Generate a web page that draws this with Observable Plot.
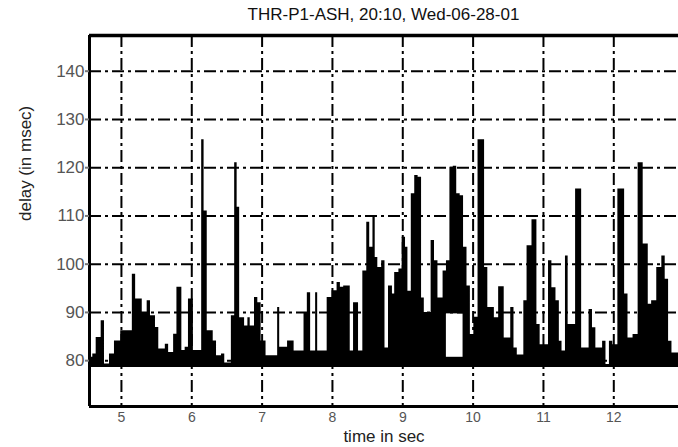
<!DOCTYPE html>
<html>
<head>
<meta charset="utf-8">
<script src="https://cdn.jsdelivr.net/npm/d3@7"></script>
<script src="https://cdn.jsdelivr.net/npm/@observablehq/plot@0.6"></script>
<style>
  html, body { margin: 0; padding: 0; background: #fff; }
  #chart { width: 678px; height: 447px; overflow: hidden; font-family: "Liberation Sans", Arial, sans-serif; }
  #title { height: 28px; margin-left: 89px; width: 589px; text-align: center;
           font-size: 17px; line-height: 30px; color: #111; white-space: nowrap; }
  #chart svg { display: block; }
</style>
</head>
<body>
<div id="chart">
  <div id="title">THR-P1-ASH, 20:10, Wed-06-28-01</div>
</div>
<script>
// Packet delay trace: sample times (s) and measured one-way delay (ms).
// Each delay holds until the next sample time.
const times = [
  4.546, 4.593, 4.641, 4.712, 4.759, 4.830, 4.901, 4.99, 5.155, 5.202,
  5.296, 5.366, 5.413, 5.484, 5.531, 5.624, 5.671, 5.742, 5.789, 5.859,
  5.906, 5.953, 6.023, 6.141, 6.175, 6.22, 6.305, 6.352, 6.423, 6.469,
  6.563, 6.610, 6.645, 6.681, 6.751, 6.798, 6.831, 6.892, 6.939, 6.986,
  7.056, 7.221, 7.25, 7.362, 7.455, 7.596, 7.643, 7.690, 7.761, 7.79,
  7.925, 7.995, 8.066, 8.113, 8.160, 8.253, 8.300, 8.371, 8.432, 8.488,
  8.53, 8.576, 8.608, 8.645, 8.700, 8.747, 8.797, 8.853, 8.885, 8.945,
  8.991, 9.039, 9.073, 9.121, 9.170, 9.218, 9.267, 9.306, 9.403, 9.451,
  9.5, 9.573, 9.621, 9.670, 9.718, 9.767, 9.816, 9.864, 9.913, 9.961,
  10.01, 10.07, 10.163, 10.209, 10.302, 10.363, 10.442, 10.535, 10.581, 10.628,
  10.721, 10.767, 10.837, 10.907, 10.953, 11.072, 11.120, 11.178, 11.226, 11.264,
  11.313, 11.351, 11.457, 11.543, 11.649, 11.697, 11.745, 11.841, 11.889, 11.938,
  11.986, 12.058, 12.154, 12.202, 12.274, 12.346, 12.418, 12.490, 12.538, 12.611,
  12.683, 12.731, 12.779, 12.827, 12.95
];
const delays = [
  80.7, 81.4, 84.8, 88.3, 79.3, 81.4, 84.1, 86.2, 97.9, 92.8,
  90, 92.4, 89.3, 86.9, 82.4, 83.4, 81.7, 85.5, 95.2, 82.1,
  82.8, 92.8, 82.1, 125.8, 111, 86.2, 84.1, 81, 81.4, 79.5,
  89.3, 121, 111.8, 88.9, 87.2, 88.9, 87.2, 93.1, 92, 84.1,
  81, 91, 82.8, 84.1, 82, 90, 94.1, 82, 94.1, 82,
  93.1, 94.5, 96.2, 95.2, 95.5, 82, 92, 82, 98.6, 108.7,
  103.5, 109.7, 101.4, 99.3, 100.7, 82.6, 95.5, 93.8, 98.3, 99,
  105.6, 103.5, 94.4, 114.6, 118.4, 118, 93, 90, 104.9, 100.7,
  93, 98.6, 100.7, 120.1, 120.3, 114.6, 114.2, 103.5, 95.5, 85.4,
  89, 125.8, 99.3, 91, 88.9, 95.3, 84.7, 91, 82.6, 81.2,
  92.4, 103.8, 109.2, 87.5, 83.3, 100.7, 95.1, 92.4, 84, 82,
  101.7, 87.5, 115.6, 82.6, 90.6, 86.8, 82.6, 84, 79.2, 84,
  83.3, 115.6, 93.8, 84.7, 85.4, 121, 104.2, 91.7, 92.4, 99.3,
  101.7, 96.9, 84, 81.6, 81.6
];
const minDelay = 78.6;            // floor of the trace (propagation delay)

// Stretch where the trace stayed high and left the band above the floor empty
const gapStart = [9.62];
const gapEnd = [9.857];
const gapLow = [80.7];
const gapHigh = [89.7];

const xTicks = [5, 6, 7, 8, 9, 10, 11, 12];
const yTicks = [80, 90, 100, 110, 120, 130, 140];
const xDomain = [4.546, 12.92];
const yDomain = [70.5, 147.4];

const samples = times.map((t, i) => ({t, delay: delays[i]}));
const gaps = gapStart.map((s, i) => ({s, e: gapEnd[i], lo: gapLow[i], hi: gapHigh[i]}));
const dashDot = "12,4,3,4";

const plot = Plot.plot({
  width: 678,
  height: 419,
  marginTop: 7,
  marginBottom: 41,
  marginLeft: 89,
  marginRight: 0,
  x: {domain: xDomain, axis: null},
  y: {domain: yDomain, axis: null},
  style: {fontFamily: "'Liberation Sans', Arial, sans-serif", background: "#fff", overflow: "visible"},
  marks: [
    // delay trace, filled down to the floor
    Plot.areaY(samples, {x: "t", y1: minDelay, y2: "delay", curve: "step-after", fill: "#000", clip: true}),
    Plot.rect(gaps, {x1: "s", x2: "e", y1: "lo", y2: "hi", fill: "#fff"}),
    // dash-dot grid
    Plot.ruleY(yTicks, {stroke: "#000", strokeWidth: 2, strokeDasharray: dashDot}),
    Plot.ruleX(xTicks, {stroke: "#000", strokeWidth: 2, strokeDasharray: dashDot}),
    // axes box: top, left, bottom
    Plot.ruleY([yDomain[1]], {stroke: "#000", strokeWidth: 3.5}),
    Plot.ruleY([yDomain[0]], {stroke: "#000", strokeWidth: 3}),
    Plot.ruleX([xDomain[0]], {stroke: "#000", strokeWidth: 3}),
    // short y tick marks outside the box
    Plot.axisY({ticks: yTicks, tickSize: 4, tickFormat: () => "", label: null, stroke: "#777", strokeWidth: 2}),
    // tick labels
    Plot.text(yTicks, {frameAnchor: "left", y: d => d, text: d => String(d), textAnchor: "end", dx: -5, fontSize: 17, fill: "#555"}),
    Plot.text(xTicks, {frameAnchor: "bottom", x: d => d, text: d => String(d), lineAnchor: "top", dy: 6, fontSize: 14, fill: "#555"}),
    // axis titles
    Plot.text(["time in sec"], {frameAnchor: "bottom", lineAnchor: "top", dy: 23, fontSize: 17, fill: "#222"}),
    Plot.text(["delay (in msec)"], {frameAnchor: "left", rotate: -90, dx: -64, fontSize: 17, fill: "#222"})
  ]
});
document.getElementById("chart").appendChild(plot);
</script>
</body>
</html>
